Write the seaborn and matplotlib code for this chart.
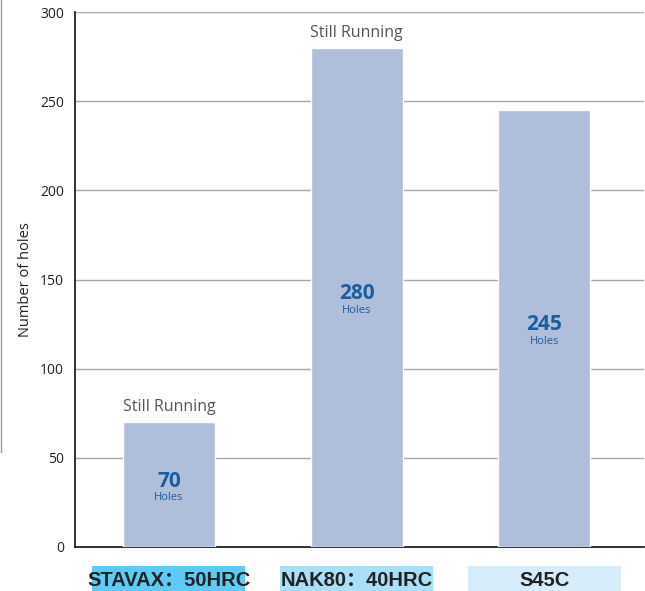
import matplotlib
matplotlib.use("Agg")
import matplotlib.pyplot as plt
from matplotlib.patches import Rectangle
from matplotlib.lines import Line2D
import matplotlib.transforms as mtransforms
import seaborn as sns
import pandas as pd

categories = ["STAVAX：50HRC", "NAK80：40HRC", "S45C"]
values = [70, 280, 245]
still_running = [True, True, False]
value_unit = "Holes"
y_ticks = [0, 50, 100, 150, 200, 250, 300]
y_label = "Number of holes"
box_colors = ["#5ccbf5", "#aadff8", "#d5edfb"]

df = pd.DataFrame({"category": categories, "value": values})

sns.set_style("white")
plt.rcParams["font.family"] = ["Open Sans", "DejaVu Sans"]

fig = plt.figure(figsize=(6.45, 5.91), dpi=100)
ax = fig.add_axes([75 / 645, 44 / 591, 569 / 645, 535 / 591])

sns.barplot(data=df, x="category", y="value", color="#afbedb", saturation=1,
            width=0.49, ax=ax, zorder=3)

ax.set_ylim(0, 300)
ax.set_xlim(-0.5, 2.53)
ax.set_yticks(y_ticks)
ax.yaxis.grid(True, color="#a8a8a8", linewidth=1.0, zorder=0)
ax.set_axisbelow(True)
for s in ["top", "right"]:
    ax.spines[s].set_visible(False)
ax.spines["left"].set_color("#111111")
ax.spines["bottom"].set_color("#111111")
ax.spines["left"].set_linewidth(1.2)
ax.spines["bottom"].set_linewidth(1.2)
ax.tick_params(axis="y", length=0, labelsize=10, colors="#222222", pad=8)
ax.tick_params(axis="x", length=0, pad=17)
ax.set_xlabel("")
ax.set_ylabel(y_label, fontsize=10.5, color="#222222", labelpad=5)

# x tick labels with colored boxes
ax.set_xticks(range(len(categories)))
ax.set_xticklabels(categories, fontsize=14.5, fontweight="bold", color="#222222",
                   family=["Liberation Sans", "Noto Sans CJK SC", "DejaVu Sans"])
trans = mtransforms.blended_transform_factory(ax.transData, ax.transAxes)
box_w = 153 / 188
for i, c in enumerate(box_colors):
    r = Rectangle((i - box_w / 2, -44 / 535), box_w, 25 / 535, transform=trans,
                  facecolor=c, edgecolor="none", clip_on=False, zorder=0.1)
    ax.add_patch(r)

# value annotations
for i, (v, sr) in enumerate(zip(values, still_running)):
    ax.text(i, v / 2 + 2, str(v), ha="center", va="center", fontsize=15,
            fontweight="bold", color="#1b5d9e", zorder=5)
    ax.text(i, v / 2 - 7.5, value_unit, ha="center", va="center", fontsize=8,
            color="#1b5d9e", zorder=5)
    if sr:
        ax.text(i, v + 4, "Still Running", ha="center", va="bottom",
                fontsize=11.5, color="#555555", zorder=5)

fig.add_artist(Line2D([0.5 / 645, 0.5 / 645], [1, 1 - 452 / 591],
                      transform=fig.transFigure, color="#9a9a9a", linewidth=1))

fig.savefig("out.png", dpi=100)
